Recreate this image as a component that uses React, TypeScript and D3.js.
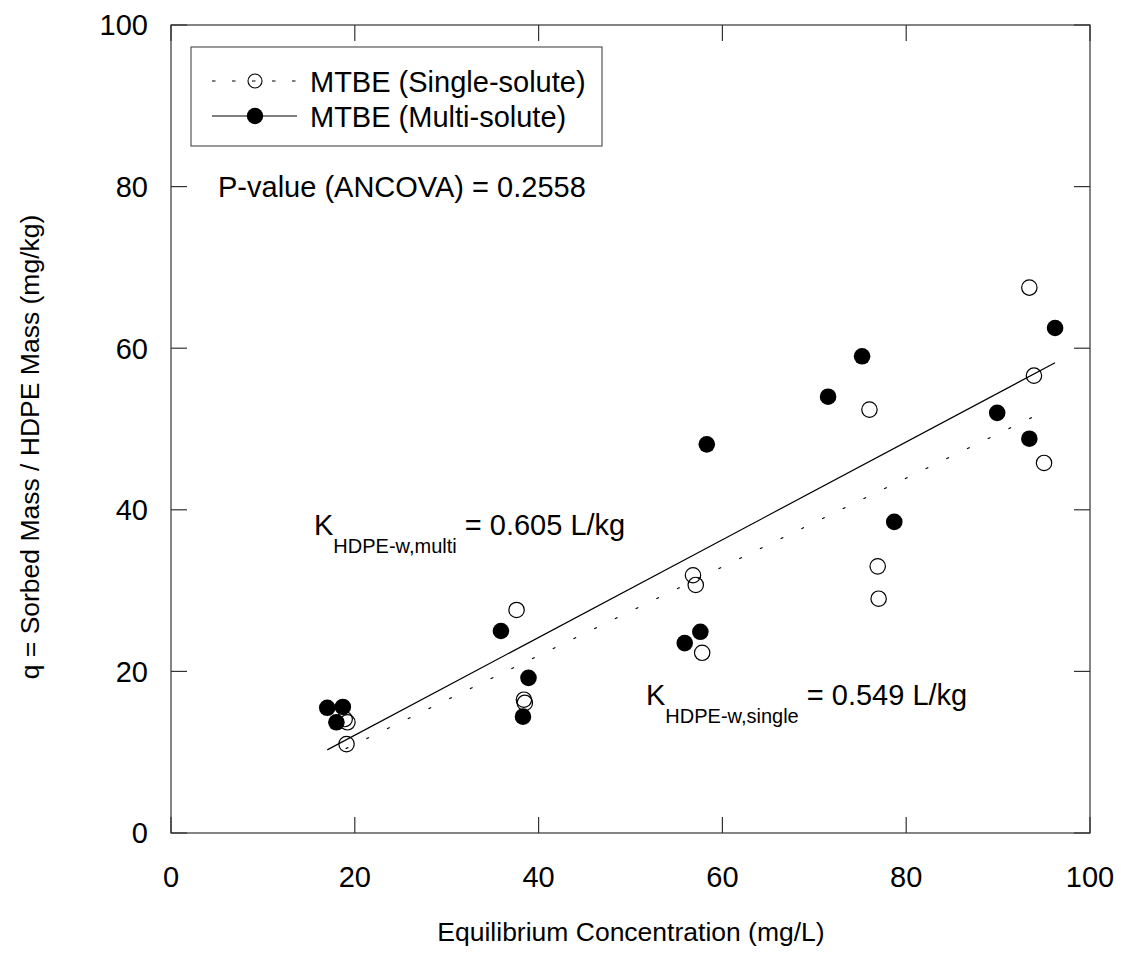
import React from "react";
import * as d3 from "d3";

const singleX = [18.9, 19.2, 19.1, 37.6, 38.4, 38.5, 56.8, 57.1, 57.8, 76.0, 76.9, 77.0, 93.4, 93.9, 95.0];
const singleY = [14.1, 13.7, 11.0, 27.6, 16.5, 16.1, 31.9, 30.7, 22.3, 52.4, 33.0, 29.0, 67.5, 56.6, 45.8];
const multiX = [17.0, 18.7, 18.0, 35.9, 38.9, 38.3, 57.6, 55.9, 58.3, 71.5, 75.2, 78.7, 89.9, 93.4, 96.2];
const multiY = [15.5, 15.6, 13.7, 25.0, 19.2, 14.4, 24.9, 23.5, 48.1, 54.0, 59.0, 38.5, 52.0, 48.8, 62.5];
const kMulti = 0.605;
const kSingle = 0.549;
const multiRange = [17.0, 96.2];
const singleRange = [19.0, 94.8];
const xTicks = [0, 20, 40, 60, 80, 100];
const yTicks = [0, 20, 40, 60, 80, 100];

const FONT = "'Liberation Sans', Arial, sans-serif";

export default function App() {
  const L = 171, R = 1090, T = 25, B = 833;
  const x = d3.scaleLinear().domain([0, 100]).range([L, R]);
  const y = d3.scaleLinear().domain([0, 100]).range([B, T]);
  const tl = 16;
  const axisColor = "#333";
  const multiLine = d3.line<number>().x((d) => x(d)).y((d) => y(kMulti * d))(multiRange) || "";
  const singleLine = d3.line<number>().x((d) => x(d)).y((d) => y(kSingle * d))(singleRange) || "";

  return (
    <svg width={1121} height={973} style={{ position: "absolute", left: 0, top: 0, background: "#fff" }} fontFamily={FONT}>
      {/* frame */}
      <rect x={L} y={T} width={R - L} height={B - T} fill="none" stroke={axisColor} strokeWidth={1.2} />
      {xTicks.map((t) => (
        <g key={"xt" + t}>
          <line x1={x(t)} x2={x(t)} y1={B} y2={B - tl} stroke={axisColor} strokeWidth={1.2} />
          <line x1={x(t)} x2={x(t)} y1={T} y2={T + tl} stroke={axisColor} strokeWidth={1.2} />
          <text x={x(t)} y={B + 54} fontSize={29} textAnchor="middle" fill="#000">{t}</text>
        </g>
      ))}
      {yTicks.map((t) => (
        <g key={"yt" + t}>
          <line x1={L} x2={L + tl} y1={y(t)} y2={y(t)} stroke={axisColor} strokeWidth={1.2} />
          <line x1={R} x2={R - tl} y1={y(t)} y2={y(t)} stroke={axisColor} strokeWidth={1.2} />
          <text x={148} y={y(t)} dy="0.36em" fontSize={29} textAnchor="end" fill="#000">{t}</text>
        </g>
      ))}
      {/* axis titles */}
      <text x={631} y={941} fontSize={26.5} textAnchor="middle" fill="#000">Equilibrium Concentration (mg/L)</text>
      <text transform="translate(39,447) rotate(-90)" fontSize={26.5} textAnchor="middle" fill="#000">q = Sorbed Mass / HDPE Mass (mg/kg)</text>

      {/* fit lines */}
      <path d={multiLine} fill="none" stroke="#000" strokeWidth={1.2} />
      <path d={singleLine} fill="none" stroke="#000" strokeWidth={1.2} strokeDasharray="3,20" />

      {/* points */}
      {multiX.map((v, i) => (
        <circle key={"m" + i} cx={x(v)} cy={y(multiY[i])} r={8.3} fill="#000" />
      ))}
      {singleX.map((v, i) => (
        <circle key={"s" + i} cx={x(v)} cy={y(singleY[i])} r={7.7} fill="none" stroke="#000" strokeWidth={1.2} />
      ))}

      {/* legend */}
      <rect x={191} y={47} width={411} height={99} fill="#fff" stroke="#555" strokeWidth={1.2} />
      <line x1={212} x2={298} y1={81} y2={81} stroke="#000" strokeWidth={1.2} strokeDasharray="3.5,16.5" />
      <circle cx={255} cy={81} r={7} fill="none" stroke="#000" strokeWidth={1.1} />
      <text x={310} y={92} fontSize={29} fill="#000">MTBE (Single-solute)</text>
      <line x1={212} x2={297} y1={116} y2={116} stroke="#000" strokeWidth={1.2} />
      <circle cx={255} cy={116} r={8.2} fill="#000" />
      <text x={310} y={127} fontSize={29} fill="#000">MTBE (Multi-solute)</text>

      {/* annotations */}
      <text x={218} y={197} fontSize={29} fill="#000">P-value (ANCOVA) = 0.2558</text>
      <text x={314} y={535} fontSize={29} fill="#000">
        K<tspan fontSize={20} dy={18}>HDPE-w,multi</tspan>
        <tspan dy={-18} fontSize={29}> = 0.605 L/kg</tspan>
      </text>
      <text x={646} y={705} fontSize={29} fill="#000">
        K<tspan fontSize={20} dy={18}>HDPE-w,single</tspan>
        <tspan dy={-18} fontSize={29}> = 0.549 L/kg</tspan>
      </text>
    </svg>
  );
}
